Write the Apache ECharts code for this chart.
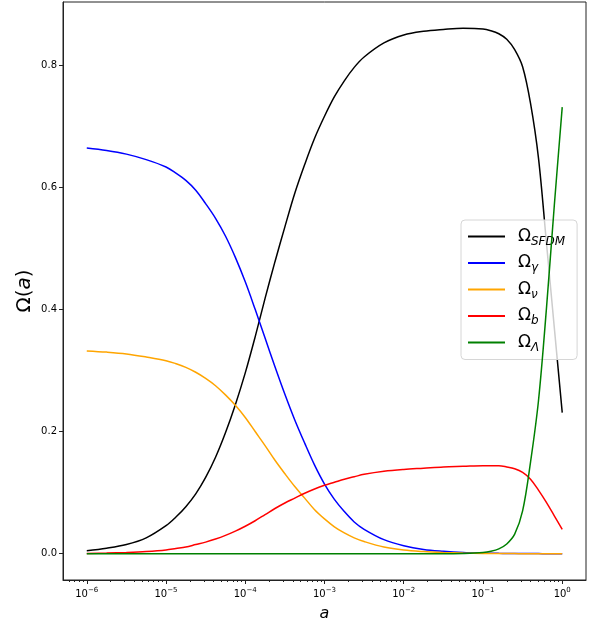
<!DOCTYPE html>
<html>
<head>
<meta charset="utf-8">
<script src="https://cdn.jsdelivr.net/npm/echarts@6/dist/echarts.min.js"></script>
<style>html,body{margin:0;padding:0;background:#fff}#c{width:596px;height:621px}</style>
</head>
<body>
<div id="c"></div>
<script>
// log10(a) sample points
const logA = [-6, -5.75, -5.5, -5.25, -5, -4.875, -4.75, -4.625, -4.5, -4.375, -4.25, -4.125, -4, -3.875, -3.75, -3.625, -3.5, -3.375, -3.25, -3.125, -3, -2.875, -2.75, -2.625, -2.5, -2.25, -2, -1.75, -1.5, -1.25, -1, -0.9, -0.8, -0.7, -0.6, -0.5, -0.4, -0.3, -0.2, -0.1, 0];
const omegaSFDM = [0.005, 0.009, 0.015, 0.026, 0.046, 0.060, 0.077, 0.098, 0.125, 0.158, 0.198, 0.244, 0.296, 0.355, 0.418, 0.478, 0.535, 0.590, 0.637, 0.680, 0.716, 0.748, 0.774, 0.796, 0.813, 0.836, 0.849, 0.855, 0.858, 0.860, 0.859, 0.856, 0.851, 0.842, 0.825, 0.797, 0.737, 0.648, 0.510, 0.370, 0.231];
const omegaGamma = [0.664, 0.660, 0.654, 0.645, 0.633, 0.623, 0.611, 0.595, 0.573, 0.549, 0.520, 0.485, 0.445, 0.400, 0.353, 0.306, 0.261, 0.219, 0.181, 0.145, 0.114, 0.089, 0.069, 0.052, 0.040, 0.023, 0.013, 0.007, 0.004, 0.002, 0.001, 0.0008, 0.0006, 0.0005, 0.0004, 0.0003, 0.0002, 0.0002, 0.0001, 0.0001, 0.0001];
const omegaNu = [0.332, 0.330, 0.327, 0.322, 0.316, 0.311, 0.305, 0.297, 0.287, 0.275, 0.260, 0.243, 0.223, 0.200, 0.177, 0.153, 0.131, 0.110, 0.091, 0.072, 0.057, 0.044, 0.034, 0.026, 0.020, 0.011, 0.006, 0.0035, 0.002, 0.001, 0.0005, 0.0004, 0.0003, 0.0002, 0.0002, 0.0001, 0.0001, 0.0001, 0.0001, 0.0001, 0.0001];
const omegaB = [0.0005, 0.001, 0.002, 0.0035, 0.006, 0.0085, 0.011, 0.015, 0.019, 0.024, 0.030, 0.037, 0.045, 0.054, 0.064, 0.074, 0.083, 0.091, 0.099, 0.106, 0.112, 0.117, 0.122, 0.126, 0.130, 0.135, 0.138, 0.140, 0.142, 0.143, 0.144, 0.144, 0.144, 0.142, 0.139, 0.133, 0.122, 0.104, 0.084, 0.062, 0.040];
const omegaL = [0, 0, 0, 0, 0, 0, 0, 0, 0, 0, 0, 0, 0, 0, 0, 0, 0, 0, 0, 0, 0, 0, 0, 0, 0, 0, 0, 0, 0, 0.0005, 0.002, 0.004, 0.008, 0.016, 0.032, 0.070, 0.150, 0.250, 0.400, 0.570, 0.731];
const seriesNames = ['SFDM', 'γ', 'ν', 'b', 'Λ'];
const seriesColors = ['#000000', '#0000ff', '#ffa500', '#ff0000', '#008000'];
const xMajorExp = [-6, -5, -4, -3, -2, -1, 0];
const yTicks = [0.0, 0.2, 0.4, 0.6, 0.8];

const xMin = -6.3, xMax = 0.3;
const yMin = -0.043, yMax = 0.903;

const minorTicks = [];
for (let e = -7; e <= 0; e++) {
  for (let k = 2; k <= 9; k++) {
    const v = e + Math.log10(k);
    if (v >= xMin && v <= xMax) minorTicks.push(v);
  }
}

const valueSets = [omegaSFDM, omegaGamma, omegaNu, omegaB, omegaL];
const FONT = 'DejaVu Sans';

const chart = echarts.init(document.getElementById('c'), null, {renderer: 'canvas'});
chart.setOption({
  animation: false,
  backgroundColor: '#ffffff',
  grid: {left: 63, right: 10, top: 2, bottom: 41, show: true, borderColor: '#222', borderWidth: 1,
    backgroundColor: 'transparent', containLabel: false, outerBoundsMode: 'none'},
  xAxis: [{
    type: 'value', min: xMin, max: xMax,
    name: 'a', nameLocation: 'middle', nameGap: 26, nameMoveOverlap: false,
    nameTextStyle: {fontFamily: FONT, fontSize: 16, fontStyle: 'italic', color: '#000'},
    splitLine: {show: false},
    axisLine: {show: true, onZero: false, lineStyle: {color: '#222', width: 1}},
    axisTick: {show: true, length: 4, lineStyle: {color: '#222', width: 1}, customValues: xMajorExp},
    axisLabel: {
      show: true, margin: 7, customValues: xMajorExp,
      formatter: v => '{b|10}{e|' + (v < 0 ? '−' + Math.abs(v) : String(v)) + '}',
      rich: {
        b: {fontFamily: FONT, fontSize: 10, color: '#000', verticalAlign: 'bottom'},
        e: {fontFamily: FONT, fontSize: 7, color: '#000', verticalAlign: 'top', padding: [0, 0, 5, 0]}
      }
    }
  }, {
    type: 'value', min: xMin, max: xMax, position: 'bottom',
    splitLine: {show: false},
    axisLine: {show: false, onZero: false},
    axisTick: {show: true, length: 2, lineStyle: {color: '#222', width: 1}, customValues: minorTicks},
    axisLabel: {show: false}
  }],
  yAxis: {
    type: 'value', min: yMin, max: yMax,
    name: '{n|Ω(}{i|a}{n|)}', nameLocation: 'middle', nameGap: 28, nameRotate: 90, nameMoveOverlap: false,
    nameTextStyle: {rich: {
      n: {fontFamily: FONT, fontSize: 20, color: '#000'},
      i: {fontFamily: FONT, fontSize: 20, fontStyle: 'italic', color: '#000'}
    }},
    splitLine: {show: false},
    axisLine: {show: true, onZero: false, lineStyle: {color: '#222', width: 1}},
    axisTick: {show: true, length: 4, lineStyle: {color: '#222', width: 1}, customValues: yTicks},
    axisLabel: {show: true, margin: 6, customValues: yTicks, formatter: v => v.toFixed(1),
      fontFamily: FONT, fontSize: 10, color: '#000'}
  },
  legend: {
    show: true, orient: 'vertical', left: 461, top: 220,
    backgroundColor: 'rgba(255,255,255,0.8)', borderColor: '#d6d6d6', borderWidth: 1, borderRadius: 4,
    padding: [8, 12, 6, 7], itemGap: 7, itemWidth: 37, itemHeight: 2, icon: 'rect',
    data: seriesNames.map(n => ({name: n, icon: 'rect'})),
    formatter: n => '{o|Ω}{s|' + n + '}',
    textStyle: {
      padding: [0, 0, 0, 8],
      rich: {
        o: {fontFamily: FONT, fontSize: 17, color: '#000', height: 22, verticalAlign: 'middle'},
        s: {fontFamily: FONT, fontSize: 12, fontStyle: 'italic', color: '#000', verticalAlign: 'bottom', padding: [8, 0, 0, 0]}
      }
    }
  },
  series: seriesNames.map((n, i) => ({
    name: n, type: 'line', xAxisIndex: 0,
    data: logA.map((x, j) => [x, valueSets[i][j]]),
    showSymbol: false, symbol: 'none',
    smooth: 0.35,
    lineStyle: {color: seriesColors[i], width: 1.5},
    itemStyle: {color: seriesColors[i]},
    z: 2 + i
  }))
});
</script>
</body>
</html>
